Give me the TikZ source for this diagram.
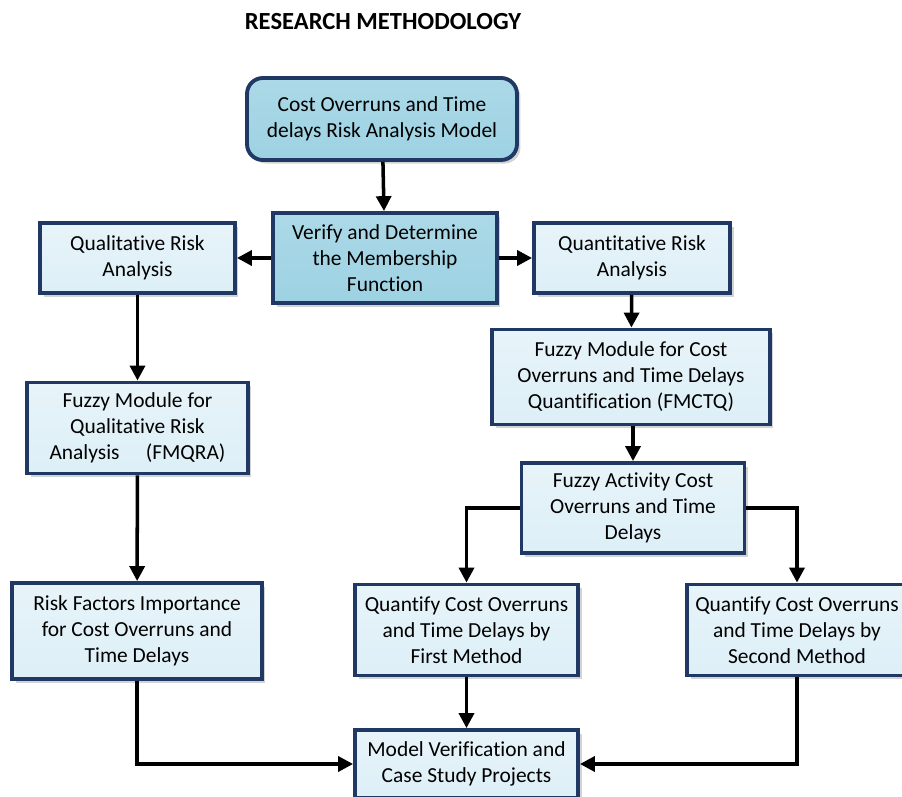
\documentclass[tikz,border=0pt]{standalone}
\usepackage{fontspec}
\setmainfont{Carlito}[Ligatures=NoCommon]
\usetikzlibrary{arrows.meta,shadows}
\definecolor{navy}{HTML}{1F3864}
\definecolor{pale}{HTML}{DDEFF7}
\definecolor{deep}{HTML}{9DD2E3}
\tikzset{bx/.style = {draw=navy, line width=2.2pt, align=center, inner sep=2pt,
                      top color=pale!70!white, bottom color=pale,
                      font=\fontsize{12.2}{14.8}\selectfont,
                      drop shadow={shadow xshift=2pt, shadow yshift=-2pt, opacity=.35}},
         dk/.style = {bx, top color=deep!85!white, bottom color=deep},
         rb/.style = {dk, rounded corners=9pt},
         fl/.style = {-{Triangle[length=8.5pt, width=8.5pt]}, line width=2pt}}

\begin{document}
\begin{tikzpicture}[x=0.02cm, y=-0.02cm]
    \useasboundingbox (0,0) rectangle (902,797);
    \node[font=\fontsize{14}{16}\selectfont\bfseries] (ttl) at (383,22) {RESEARCH METHODOLOGY};
    \node[rb, minimum width=5.4cm, minimum height=1.64cm] (m) at (382,119) {Cost Overruns and Time\\delays Risk Analysis Model};
    \node[dk, minimum width=4.48cm, minimum height=1.8cm] (v) at (385,258) {Verify and Determine\\the Membership\\Function};
    \node[bx, minimum width=3.9cm, minimum height=1.4cm] (ql) at (137.5,258) {Qualitative Risk\\Analysis};
    \node[bx, minimum width=3.92cm, minimum height=1.4cm] (qn) at (632,258) {Quantitative Risk\\Analysis};
    \node[bx, minimum width=5.56cm, minimum height=1.9cm] (fq) at (631,377) {Fuzzy Module for Cost\\Overruns and Time Delays\\Quantification (FMCTQ)};
    \node[bx, minimum width=4.46cm, minimum height=1.8cm] (fa) at (633,508) {Fuzzy Activity Cost\\Overruns and Time\\Delays};
    \node[bx, minimum width=4.42cm, minimum height=1.82cm] (fr) at (137.5,428) {Fuzzy Module for\\Qualitative Risk\\Analysis\quad\ (FMQRA)};
    \node[bx, minimum width=5.0cm, minimum height=1.92cm] (rf) at (137,631) {Risk Factors Importance\\for Cost Overruns and\\Time Delays};
    \node[bx, minimum width=4.46cm, minimum height=1.82cm] (q1) at (466.5,630) {Quantify Cost Overruns\\and Time Delays by\\First Method};
    \node[bx, minimum width=4.4cm, minimum height=1.82cm] (q2) at (797,630) {Quantify Cost Overruns\\and Time Delays by\\Second Method};
    \node[bx, minimum width=4.46cm, minimum height=1.36cm] (mv) at (466.5,764) {Model Verification and\\Case Study Projects};
    \draw[fl] (m) -- (v);
    \draw[fl] (v) -- (ql);
    \draw[fl] (v) -- (qn);
    \draw[fl] (ql) -- (fr);
    \draw[fl] (fr) -- (rf);
    \draw[fl] (qn) -- (fq);
    \draw[fl] (fq.south -| fa.north) -- (fa);
    \draw[fl] (fa.west) -| (q1.north);
    \draw[fl] (fa.east) -| (q2.north);
    \draw[fl] (q1) -- (mv);
    \draw[fl] (rf.south) |- (mv.west);
    \draw[fl] (q2.south) |- (mv.east);
\end{tikzpicture}
\end{document}
